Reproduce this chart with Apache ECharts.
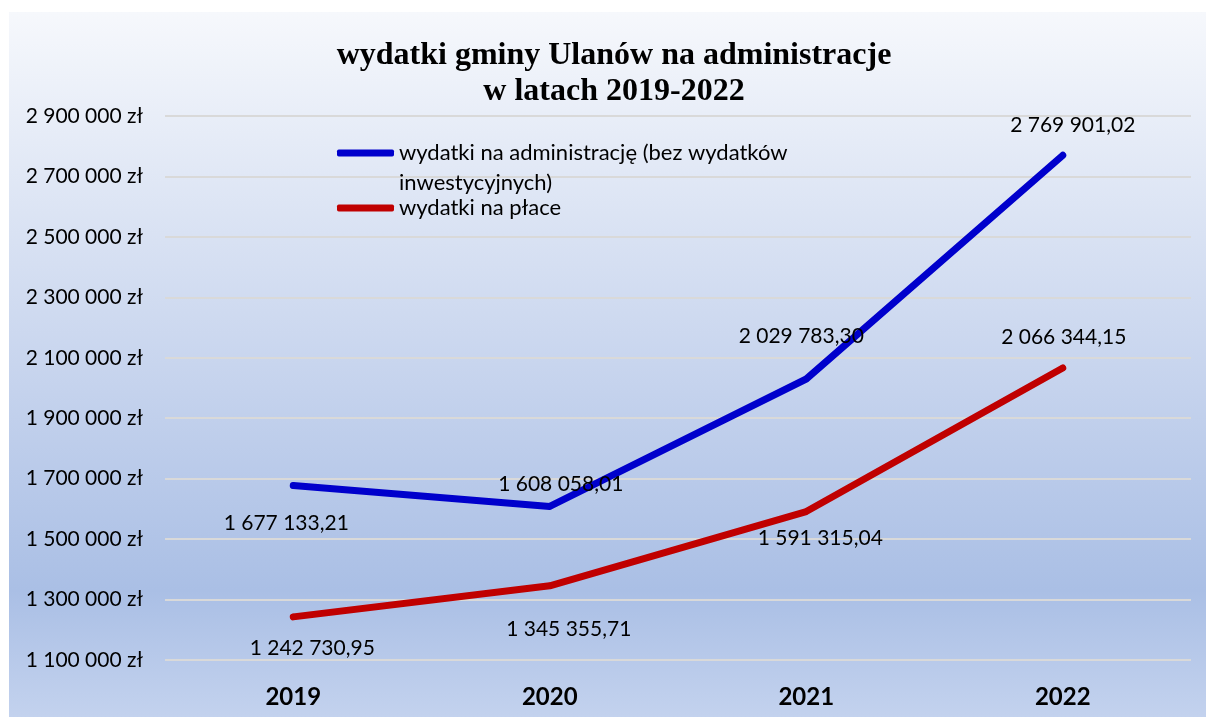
<!DOCTYPE html>
<html>
<head>
<meta charset="utf-8">
<script src="https://cdn.jsdelivr.net/npm/echarts@6/dist/echarts.min.js"></script>
<style>
  html, body { margin: 0; padding: 0; background: #fff; }
  #chart { position: absolute; left: 9px; top: 12px; width: 1197px; height: 705px; }
</style>
</head>
<body>
<div id="chart"></div>
<script>
const years = ['2019', '2020', '2021', '2022'];
const seriesNames = ['wydatki na administrację (bez wydatków inwestycyjnych)', 'wydatki na płace'];
const adminValues = [1677133.21, 1608058.01, 2029783.30, 2769901.02];
const salaryValues = [1242730.95, 1345355.71, 1591315.04, 2066344.15];
const yTicks = [1100000, 1300000, 1500000, 1700000, 1900000, 2100000, 2300000, 2500000, 2700000, 2900000];

// where each data label sits relative to its point
const adminLabelOffsets = [[-7, 38], [11, -22], [-5, -43], [10, -30]];
const salaryLabelOffsets = [[19, 31], [19, 43], [14, 27], [1, -31]];

const FONT = 'Lato, "Open Sans", sans-serif';

function groupThousands(s) {
  return s.replace(/\B(?=(\d{3})+(?!\d))/g, ' ');
}
function fmtValue(v) {
  const parts = v.toFixed(2).split('.');
  return groupThousands(parts[0]) + ',' + parts[1];
}
function fmtAxis(v) {
  return groupThousands(String(Math.round(v))) + ' zł';
}

function withLabels(values, offsets) {
  return values.map((v, i) => ({
    value: v,
    label: { offset: offsets[i] }
  }));
}

function lineSeries(name, values, offsets, color) {
  return {
    name: name,
    type: 'line',
    data: withLabels(values, offsets),
    symbol: 'circle',
    symbolSize: 6,
    showSymbol: true,
    itemStyle: { color: color },
    lineStyle: { color: color, width: 7, cap: 'round', join: 'round' },
    label: {
      show: true,
      position: 'inside',
      color: '#000',
      fontFamily: FONT,
      fontSize: 21,
      formatter: p => fmtValue(p.value)
    },
    emphasis: { disabled: true }
  };
}

// legend text: first item wraps onto a second line, icon stays by the first line
function legendText(name) {
  if (name === seriesNames[0]) {
    return '\nwydatki na administrację (bez wydatków\ninwestycyjnych)';
  }
  return name;
}

const chart = echarts.init(document.getElementById('chart'));
chart.setOption({
  animation: false,
  backgroundColor: {
    type: 'linear', x: 0, y: 0, x2: 0, y2: 1,
    colorStops: [
      { offset: 0, color: '#f6f8fc' },
      { offset: 0.5, color: '#c8d5ee' },
      { offset: 0.82, color: '#aabfe5' },
      { offset: 1, color: '#c3d2ee' }
    ]
  },
  title: {
    text: 'wydatki gminy Ulanów na administracje\nw latach 2019-2022',
    left: 600,
    top: 21,
    textAlign: 'center',
    textStyle: {
      fontFamily: '"Liberation Serif", "Times New Roman", serif',
      fontWeight: 'bold',
      fontSize: 32,
      lineHeight: 36,
      color: '#000'
    }
  },
  legend: {
    orient: 'vertical',
    left: 328,
    top: 96,
    padding: 0,
    itemWidth: 57,
    itemHeight: 7,
    itemGap: -5,
    icon: 'roundRect',
    formatter: legendText,
    textStyle: { fontFamily: FONT, fontSize: 22, lineHeight: 30, color: '#000' },
    data: seriesNames
  },
  grid: { left: 156, right: 15, top: 104, bottom: 57 },
  xAxis: {
    type: 'category',
    data: years,
    boundaryGap: true,
    axisLine: { show: false },
    axisTick: { show: false },
    axisLabel: {
      margin: 25,
      color: '#000',
      fontFamily: FONT,
      fontWeight: 'bold',
      fontSize: 24
    }
  },
  yAxis: {
    type: 'value',
    min: yTicks[0],
    max: yTicks[yTicks.length - 1],
    interval: yTicks[1] - yTicks[0],
    axisLine: { show: false },
    axisTick: { show: false },
    axisLabel: {
      margin: 22,
      color: '#000',
      fontFamily: FONT,
      fontSize: 21,
      formatter: fmtAxis
    },
    splitLine: { lineStyle: { color: '#d9d9d9', width: 2 } }
  },
  series: [
    lineSeries(seriesNames[0], adminValues, adminLabelOffsets, '#0000cc'),
    lineSeries(seriesNames[1], salaryValues, salaryLabelOffsets, '#c00000')
  ]
});
</script>
</body>
</html>
